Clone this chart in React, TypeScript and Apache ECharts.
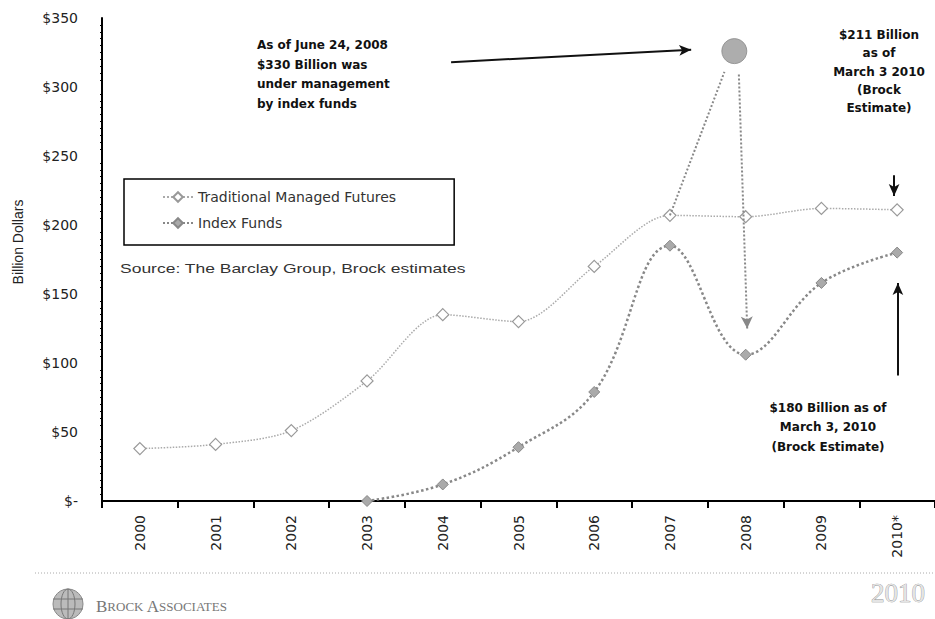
import React, { useEffect, useRef } from "react";
import * as echarts from "echarts";

// ---------- data ----------
const years = ["2000", "2001", "2002", "2003", "2004", "2005", "2006", "2007", "2008", "2009", "2010*"];
const traditionalManagedFutures = [38, 41, 51, 87, 135, 130, 170, 207, 206, 212, 211];
const indexFunds: (number | null)[] = [null, null, null, 0, 12, 39, 79, 185, 106, 158, 180];
const yAxisMin = 0;
const yAxisMax = 350;
const yAxisInterval = 50;
// June 24, 2008 peak of index funds (x in category-index units, y in $bn)
const indexPeak = [7.85, 326];

// annotation arrows, in axis units [x, y]
const peakSpikeUp = [[7, 207], [7.72, 311]];
const peakSpikeDown = [[7.91, 309], [8.02, 125]];
const peakPointerArrow = [[4.11, 318], [7.28, 327]];
const tradEstimateArrow = [[9.96, 236], [9.96, 221]];
const indexEstimateArrow = [[10.01, 91], [10.01, 158]];

const FONT = "'DejaVu Sans', sans-serif";
const NAME_FONT = "'Liberation Sans', Arial, sans-serif";
const BOLD_FONT = "'DejaVu Sans', sans-serif";

export default function App() {
  const ref = useRef<HTMLDivElement>(null);

  useEffect(() => {
    if (!ref.current) return;
    const chart = echarts.init(ref.current, null, { renderer: "svg" });

    const annoText = (x: number, y: number, text: string, align: string, lh: number) => ({
      type: "text",
      x,
      y,
      style: {
        text,
        align,
        verticalAlign: "top",
        fontFamily: BOLD_FONT,
        fontWeight: "bold",
        fontSize: 12,
        lineHeight: lh,
        fill: "#111",
      },
    });

    const arrowLine = (pts: number[][], symbols: string[]) => [
      { coord: pts[0], symbol: symbols[0] },
      { coord: pts[1], symbol: symbols[1] },
    ];

    chart.setOption({
      animation: false,
      backgroundColor: "#fff",
      grid: { left: 102, top: 18, width: 843, height: 483, containLabel: false },
      legend: {
        orient: "vertical",
        left: 124,
        top: 179,
        padding: [11, 58, 15, 38],
        itemGap: 12,
        itemWidth: 30,
        itemHeight: 12,
        borderColor: "#000",
        borderWidth: 1.5,
        borderRadius: 0,
        textStyle: { fontSize: 14, fontFamily: "'DejaVu Sans', sans-serif", color: "#333" },
        data: ["Traditional Managed Futures", "Index Funds"],
      },
      xAxis: [
        {
          type: "category",
          data: years,
          boundaryGap: true,
          axisLine: { onZero: false, lineStyle: { color: "#000", width: 2 } },
          axisTick: { show: true, length: 7, lineStyle: { color: "#000", width: 2 } },
          axisLabel: {
            rotate: 90,
            margin: 14,
            fontSize: 14,
            fontFamily: FONT,
            color: "#222",
          },
          splitLine: { show: false },
        },
        {
          type: "value",
          min: -0.5,
          max: 10.5,
          show: false,
          splitLine: { show: false },
        },
      ],
      yAxis: {
        type: "value",
        min: yAxisMin,
        max: yAxisMax,
        interval: yAxisInterval,
        splitLine: { show: false },
        axisLine: { show: true, onZero: false, lineStyle: { color: "#000", width: 2 } },
        axisTick: { show: true, length: 0 },
        minorTick: { show: true, splitNumber: 10, length: 2, lineStyle: { color: "#000" } },
        axisLabel: {
          margin: 24,
          fontSize: 14,
          fontFamily: FONT,
          color: "#222",
          formatter: (v: number) => (v === 0 ? "$-" : "$" + v),
        },
      },
      series: [
        {
          name: "Traditional Managed Futures",
          type: "line",
          data: traditionalManagedFutures,
          smooth: 0.3,
          symbol: "diamond",
          symbolSize: 12,
          lineStyle: { color: "#aaa", width: 1.5, type: "dotted" },
          itemStyle: { color: "#fff", borderColor: "#999", borderWidth: 1.2 },
          z: 3,
        },
        {
          name: "Index Funds",
          type: "line",
          data: indexFunds,
          smooth: 0.4,
          symbol: "diamond",
          symbolSize: 11,
          lineStyle: { color: "#888", width: 2.5, type: "dotted" },
          itemStyle: { color: "#aaa", borderColor: "#888", borderWidth: 1 },
          z: 3,
        },
        {
          name: "Peak",
          type: "scatter",
          xAxisIndex: 1,
          data: [indexPeak],
          symbol: "circle",
          symbolSize: 25,
          itemStyle: { color: "#999", borderColor: "#888", borderWidth: 1 },
          z: 4,
          markLine: {
            silent: true,
            symbolSize: [9, 12],
            label: { show: false },
            lineStyle: { color: "#888", width: 2, type: "dotted" },
            data: [arrowLine(peakSpikeUp, ["none", "none"]), arrowLine(peakSpikeDown, ["none", "arrow"])],
          },
        },
        {
          name: "Arrows",
          type: "scatter",
          xAxisIndex: 1,
          data: [],
          markLine: {
            silent: true,
            symbolSize: [8, 12],
            label: { show: false },
            lineStyle: { color: "#111", width: 2, type: "solid" },
            data: [
              arrowLine(peakPointerArrow, ["none", "arrow"]),
              arrowLine(tradEstimateArrow, ["none", "arrow"]),
              arrowLine(indexEstimateArrow, ["none", "arrow"]),
            ],
          },
        },
      ],
      graphic: [
        {
          type: "text",
          x: 18,
          y: 242,
          rotation: Math.PI / 2,
          style: {
            text: "Billion Dollars",
            align: "center",
            verticalAlign: "middle",
            fontFamily: NAME_FONT,
            fontSize: 14,
            fill: "#222",
          },
        },
        {
          type: "text",
          x: 120,
          y: 268,
          scaleX: 1.4,
          style: {
            text: "Source: The Barclay Group, Brock estimates",
            verticalAlign: "middle",
            fontFamily: NAME_FONT,
            fontSize: 12.5,
            fill: "#333",
          },
        },
        annoText(257, 35, "As of June 24, 2008\n$330 Billion was\nunder management\nby index funds", "left", 19.7),
        annoText(879, 26, "$211 Billion\nas of\nMarch 3 2010\n(Brock\nEstimate)", "center", 18.3),
        annoText(828, 398, "$180 Billion as of\nMarch 3, 2010\n(Brock Estimate)", "center", 19.5),
        {
          type: "line",
          shape: { x1: 35, y1: 573, x2: 935, y2: 573 },
          style: { stroke: "#aaa", lineWidth: 1, lineDash: [1, 2] },
        },
        {
          type: "group",
          children: [
            { type: "circle", shape: { cx: 68, cy: 604, r: 15 }, style: { fill: "#bbb", stroke: "#888", lineWidth: 1 } },
            { type: "ellipse", shape: { cx: 68, cy: 604, rx: 7, ry: 15 }, style: { fill: "none", stroke: "#777", lineWidth: 1 } },
            { type: "line", shape: { x1: 53, y1: 599, x2: 83, y2: 599 }, style: { stroke: "#777", lineWidth: 1 } },
            { type: "line", shape: { x1: 53, y1: 609, x2: 83, y2: 609 }, style: { stroke: "#777", lineWidth: 1 } },
            { type: "line", shape: { x1: 68, y1: 589, x2: 68, y2: 619 }, style: { stroke: "#777", lineWidth: 1 } },
          ],
        },
        {
          type: "text",
          x: 96,
          y: 606,
          style: {
            text: "{b|B}{s|ROCK} {b|A}{s|SSOCIATES}",
            verticalAlign: "middle",
            rich: {
              b: { fontFamily: "'Liberation Serif', serif", fontSize: 17, fill: "#777" },
              s: { fontFamily: "'Liberation Serif', serif", fontSize: 13, fill: "#777" },
            },
          },
        },
        {
          type: "text",
          x: 925,
          y: 593,
          style: {
            text: "2010",
            align: "right",
            verticalAlign: "middle",
            fontFamily: "'Liberation Serif', serif",
            fontSize: 27,
            fill: "#e4e4e4",
            stroke: "#888",
            lineWidth: 0.7,
          },
        },
      ],
    });

    return () => chart.dispose();
  }, []);

  return <div ref={ref} style={{ width: 935, height: 619, position: "absolute", left: 0, top: 0 }} />;
}
